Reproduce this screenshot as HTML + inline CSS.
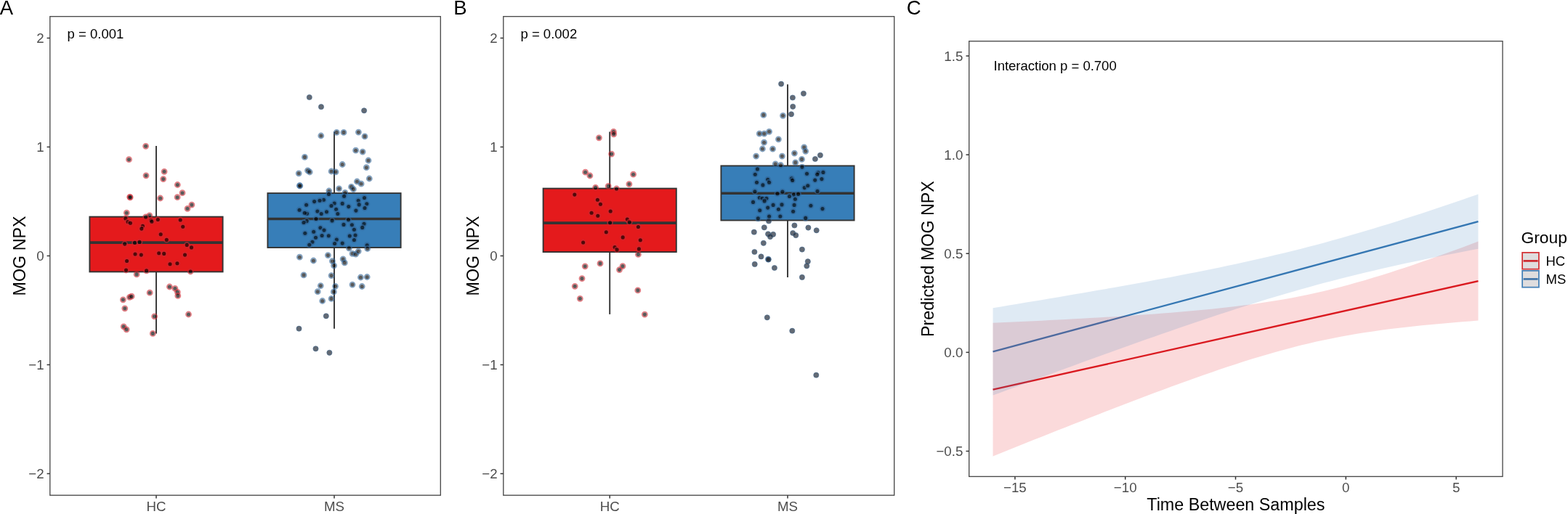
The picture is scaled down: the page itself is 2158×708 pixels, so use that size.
<!DOCTYPE html><html><head><meta charset="utf-8"><title>MOG NPX figure</title><style>html,body{margin:0;padding:0;background:#fff;overflow:hidden;}svg{display:block;}text{font-family:'Liberation Sans', Arial, Helvetica, sans-serif;}</style></head><body>
<svg width="2158" height="708" viewBox="0 0 2158 708">
<rect width="2158" height="708" fill="#fff"/>
<line x1="215" y1="201" x2="215" y2="298.6" stroke="#333333" stroke-width="1.9"/>
<line x1="215" y1="374.4" x2="215" y2="459.4" stroke="#333333" stroke-width="1.9"/>
<rect x="123.4" y="298.6" width="183.2" height="75.8" fill="#E41A1C" stroke="#333333" stroke-width="1.9"/>
<line x1="123.4" y1="334.1" x2="306.6" y2="334.1" stroke="#333333" stroke-width="3.6"/>
<line x1="460" y1="181.5" x2="460" y2="266.1" stroke="#333333" stroke-width="1.9"/>
<line x1="460" y1="341" x2="460" y2="452.7" stroke="#333333" stroke-width="1.9"/>
<rect x="368.4" y="266.1" width="183.2" height="74.9" fill="#377EB8" stroke="#333333" stroke-width="1.9"/>
<line x1="368.4" y1="301.5" x2="551.6" y2="301.5" stroke="#333333" stroke-width="3.6"/>
<circle cx="200.6" cy="201.3" r="3.45" fill="none" stroke="rgba(205,40,50,0.6)" stroke-width="1.9"/><circle cx="200.6" cy="201.3" r="2.55" fill="rgba(0,0,0,0.65)"/>
<circle cx="177.5" cy="219.7" r="3.45" fill="none" stroke="rgba(205,40,50,0.6)" stroke-width="1.9"/><circle cx="177.5" cy="219.7" r="2.55" fill="rgba(0,0,0,0.65)"/>
<circle cx="201" cy="241.8" r="3.45" fill="none" stroke="rgba(205,40,50,0.6)" stroke-width="1.9"/><circle cx="201" cy="241.8" r="2.55" fill="rgba(0,0,0,0.65)"/>
<circle cx="226.1" cy="236.3" r="3.45" fill="none" stroke="rgba(205,40,50,0.6)" stroke-width="1.9"/><circle cx="226.1" cy="236.3" r="2.55" fill="rgba(0,0,0,0.65)"/>
<circle cx="224.7" cy="246.6" r="3.45" fill="none" stroke="rgba(205,40,50,0.6)" stroke-width="1.9"/><circle cx="224.7" cy="246.6" r="2.55" fill="rgba(0,0,0,0.65)"/>
<circle cx="244.3" cy="254.5" r="3.45" fill="none" stroke="rgba(205,40,50,0.6)" stroke-width="1.9"/><circle cx="244.3" cy="254.5" r="2.55" fill="rgba(0,0,0,0.65)"/>
<circle cx="251" cy="265.7" r="3.45" fill="none" stroke="rgba(205,40,50,0.6)" stroke-width="1.9"/><circle cx="251" cy="265.7" r="2.55" fill="rgba(0,0,0,0.65)"/>
<circle cx="244.1" cy="271.7" r="3.45" fill="none" stroke="rgba(205,40,50,0.6)" stroke-width="1.9"/><circle cx="244.1" cy="271.7" r="2.55" fill="rgba(0,0,0,0.65)"/>
<circle cx="178.7" cy="271.3" r="3.45" fill="none" stroke="rgba(205,40,50,0.6)" stroke-width="1.9"/><circle cx="178.7" cy="271.3" r="2.55" fill="rgba(0,0,0,0.65)"/>
<circle cx="179.2" cy="271.8" r="3.45" fill="none" stroke="rgba(205,40,50,0.6)" stroke-width="1.9"/><circle cx="179.2" cy="271.8" r="2.55" fill="rgba(0,0,0,0.65)"/>
<circle cx="220.6" cy="273" r="3.45" fill="none" stroke="rgba(205,40,50,0.6)" stroke-width="1.9"/><circle cx="220.6" cy="273" r="2.55" fill="rgba(0,0,0,0.65)"/>
<circle cx="263.9" cy="282.1" r="3.45" fill="none" stroke="rgba(205,40,50,0.6)" stroke-width="1.9"/><circle cx="263.9" cy="282.1" r="2.55" fill="rgba(0,0,0,0.65)"/>
<circle cx="258" cy="287.3" r="3.45" fill="none" stroke="rgba(205,40,50,0.6)" stroke-width="1.9"/><circle cx="258" cy="287.3" r="2.55" fill="rgba(0,0,0,0.65)"/>
<circle cx="174.3" cy="293.2" r="3.45" fill="none" stroke="rgba(205,40,50,0.6)" stroke-width="1.9"/><circle cx="174.3" cy="293.2" r="2.55" fill="rgba(0,0,0,0.65)"/>
<circle cx="205.8" cy="296.8" r="3.45" fill="none" stroke="rgba(205,40,50,0.6)" stroke-width="1.9"/><circle cx="205.8" cy="296.8" r="2.55" fill="rgba(0,0,0,0.65)"/>
<circle cx="200.6" cy="298.9" r="3.45" fill="none" stroke="rgba(205,40,50,0.6)" stroke-width="1.9"/><circle cx="200.6" cy="298.9" r="2.55" fill="rgba(0,0,0,0.65)"/>
<circle cx="172.9" cy="301" r="3.45" fill="none" stroke="rgba(205,40,50,0.6)" stroke-width="1.9"/><circle cx="172.9" cy="301" r="2.55" fill="rgba(0,0,0,0.65)"/>
<circle cx="176" cy="305.6" r="3.45" fill="none" stroke="rgba(205,40,50,0.6)" stroke-width="1.9"/><circle cx="176" cy="305.6" r="2.55" fill="rgba(0,0,0,0.65)"/>
<circle cx="179.4" cy="307.2" r="3.45" fill="none" stroke="rgba(205,40,50,0.6)" stroke-width="1.9"/><circle cx="179.4" cy="307.2" r="2.55" fill="rgba(0,0,0,0.65)"/>
<circle cx="207.9" cy="303.3" r="3.45" fill="none" stroke="rgba(205,40,50,0.6)" stroke-width="1.9"/><circle cx="207.9" cy="303.3" r="2.55" fill="rgba(0,0,0,0.65)"/>
<circle cx="208.9" cy="305.2" r="3.45" fill="none" stroke="rgba(205,40,50,0.6)" stroke-width="1.9"/><circle cx="208.9" cy="305.2" r="2.55" fill="rgba(0,0,0,0.65)"/>
<circle cx="217.3" cy="302.5" r="3.45" fill="none" stroke="rgba(205,40,50,0.6)" stroke-width="1.9"/><circle cx="217.3" cy="302.5" r="2.55" fill="rgba(0,0,0,0.65)"/>
<circle cx="196.4" cy="311.4" r="3.45" fill="none" stroke="rgba(205,40,50,0.6)" stroke-width="1.9"/><circle cx="196.4" cy="311.4" r="2.55" fill="rgba(0,0,0,0.65)"/>
<circle cx="194.8" cy="315.1" r="3.45" fill="none" stroke="rgba(205,40,50,0.6)" stroke-width="1.9"/><circle cx="194.8" cy="315.1" r="2.55" fill="rgba(0,0,0,0.65)"/>
<circle cx="221.2" cy="322.7" r="3.45" fill="none" stroke="rgba(205,40,50,0.6)" stroke-width="1.9"/><circle cx="221.2" cy="322.7" r="2.55" fill="rgba(0,0,0,0.65)"/>
<circle cx="229.3" cy="330.2" r="3.45" fill="none" stroke="rgba(205,40,50,0.6)" stroke-width="1.9"/><circle cx="229.3" cy="330.2" r="2.55" fill="rgba(0,0,0,0.65)"/>
<circle cx="248.2" cy="303" r="3.45" fill="none" stroke="rgba(205,40,50,0.6)" stroke-width="1.9"/><circle cx="248.2" cy="303" r="2.55" fill="rgba(0,0,0,0.65)"/>
<circle cx="251.7" cy="312.3" r="3.45" fill="none" stroke="rgba(205,40,50,0.6)" stroke-width="1.9"/><circle cx="251.7" cy="312.3" r="2.55" fill="rgba(0,0,0,0.65)"/>
<circle cx="171.7" cy="336.1" r="3.45" fill="none" stroke="rgba(205,40,50,0.6)" stroke-width="1.9"/><circle cx="171.7" cy="336.1" r="2.55" fill="rgba(0,0,0,0.65)"/>
<circle cx="185.5" cy="334.4" r="3.45" fill="none" stroke="rgba(205,40,50,0.6)" stroke-width="1.9"/><circle cx="185.5" cy="334.4" r="2.55" fill="rgba(0,0,0,0.65)"/>
<circle cx="192" cy="333.4" r="3.45" fill="none" stroke="rgba(205,40,50,0.6)" stroke-width="1.9"/><circle cx="192" cy="333.4" r="2.55" fill="rgba(0,0,0,0.65)"/>
<circle cx="257.2" cy="337.5" r="3.45" fill="none" stroke="rgba(205,40,50,0.6)" stroke-width="1.9"/><circle cx="257.2" cy="337.5" r="2.55" fill="rgba(0,0,0,0.65)"/>
<circle cx="263.5" cy="340.9" r="3.45" fill="none" stroke="rgba(205,40,50,0.6)" stroke-width="1.9"/><circle cx="263.5" cy="340.9" r="2.55" fill="rgba(0,0,0,0.65)"/>
<circle cx="186" cy="350" r="3.45" fill="none" stroke="rgba(205,40,50,0.6)" stroke-width="1.9"/><circle cx="186" cy="350" r="2.55" fill="rgba(0,0,0,0.65)"/>
<circle cx="194.3" cy="351.1" r="3.45" fill="none" stroke="rgba(205,40,50,0.6)" stroke-width="1.9"/><circle cx="194.3" cy="351.1" r="2.55" fill="rgba(0,0,0,0.65)"/>
<circle cx="218.7" cy="348.8" r="3.45" fill="none" stroke="rgba(205,40,50,0.6)" stroke-width="1.9"/><circle cx="218.7" cy="348.8" r="2.55" fill="rgba(0,0,0,0.65)"/>
<circle cx="225.7" cy="349.4" r="3.45" fill="none" stroke="rgba(205,40,50,0.6)" stroke-width="1.9"/><circle cx="225.7" cy="349.4" r="2.55" fill="rgba(0,0,0,0.65)"/>
<circle cx="254.5" cy="351.1" r="3.45" fill="none" stroke="rgba(205,40,50,0.6)" stroke-width="1.9"/><circle cx="254.5" cy="351.1" r="2.55" fill="rgba(0,0,0,0.65)"/>
<circle cx="174.6" cy="359.5" r="3.45" fill="none" stroke="rgba(205,40,50,0.6)" stroke-width="1.9"/><circle cx="174.6" cy="359.5" r="2.55" fill="rgba(0,0,0,0.65)"/>
<circle cx="234" cy="363.7" r="3.45" fill="none" stroke="rgba(205,40,50,0.6)" stroke-width="1.9"/><circle cx="234" cy="363.7" r="2.55" fill="rgba(0,0,0,0.65)"/>
<circle cx="243.9" cy="362.8" r="3.45" fill="none" stroke="rgba(205,40,50,0.6)" stroke-width="1.9"/><circle cx="243.9" cy="362.8" r="2.55" fill="rgba(0,0,0,0.65)"/>
<circle cx="173.5" cy="372" r="3.45" fill="none" stroke="rgba(205,40,50,0.6)" stroke-width="1.9"/><circle cx="173.5" cy="372" r="2.55" fill="rgba(0,0,0,0.65)"/>
<circle cx="201.6" cy="372.9" r="3.45" fill="none" stroke="rgba(205,40,50,0.6)" stroke-width="1.9"/><circle cx="201.6" cy="372.9" r="2.55" fill="rgba(0,0,0,0.65)"/>
<circle cx="262.2" cy="374" r="3.45" fill="none" stroke="rgba(205,40,50,0.6)" stroke-width="1.9"/><circle cx="262.2" cy="374" r="2.55" fill="rgba(0,0,0,0.65)"/>
<circle cx="188.1" cy="377.9" r="3.45" fill="none" stroke="rgba(205,40,50,0.6)" stroke-width="1.9"/><circle cx="188.1" cy="377.9" r="2.55" fill="rgba(0,0,0,0.65)"/>
<circle cx="206.1" cy="403.2" r="3.45" fill="none" stroke="rgba(205,40,50,0.6)" stroke-width="1.9"/><circle cx="206.1" cy="403.2" r="2.55" fill="rgba(0,0,0,0.65)"/>
<circle cx="178.4" cy="409.4" r="3.45" fill="none" stroke="rgba(205,40,50,0.6)" stroke-width="1.9"/><circle cx="178.4" cy="409.4" r="2.55" fill="rgba(0,0,0,0.65)"/>
<circle cx="181.1" cy="408.2" r="3.45" fill="none" stroke="rgba(205,40,50,0.6)" stroke-width="1.9"/><circle cx="181.1" cy="408.2" r="2.55" fill="rgba(0,0,0,0.65)"/>
<circle cx="169.4" cy="412.8" r="3.45" fill="none" stroke="rgba(205,40,50,0.6)" stroke-width="1.9"/><circle cx="169.4" cy="412.8" r="2.55" fill="rgba(0,0,0,0.65)"/>
<circle cx="171.8" cy="424.8" r="3.45" fill="none" stroke="rgba(205,40,50,0.6)" stroke-width="1.9"/><circle cx="171.8" cy="424.8" r="2.55" fill="rgba(0,0,0,0.65)"/>
<circle cx="212.6" cy="435.8" r="3.45" fill="none" stroke="rgba(205,40,50,0.6)" stroke-width="1.9"/><circle cx="212.6" cy="435.8" r="2.55" fill="rgba(0,0,0,0.65)"/>
<circle cx="170.2" cy="449.8" r="3.45" fill="none" stroke="rgba(205,40,50,0.6)" stroke-width="1.9"/><circle cx="170.2" cy="449.8" r="2.55" fill="rgba(0,0,0,0.65)"/>
<circle cx="174.1" cy="453.8" r="3.45" fill="none" stroke="rgba(205,40,50,0.6)" stroke-width="1.9"/><circle cx="174.1" cy="453.8" r="2.55" fill="rgba(0,0,0,0.65)"/>
<circle cx="210.3" cy="459.4" r="3.45" fill="none" stroke="rgba(205,40,50,0.6)" stroke-width="1.9"/><circle cx="210.3" cy="459.4" r="2.55" fill="rgba(0,0,0,0.65)"/>
<circle cx="233.4" cy="395" r="3.45" fill="none" stroke="rgba(205,40,50,0.6)" stroke-width="1.9"/><circle cx="233.4" cy="395" r="2.55" fill="rgba(0,0,0,0.65)"/>
<circle cx="240.9" cy="397.3" r="3.45" fill="none" stroke="rgba(205,40,50,0.6)" stroke-width="1.9"/><circle cx="240.9" cy="397.3" r="2.55" fill="rgba(0,0,0,0.65)"/>
<circle cx="244.3" cy="402.3" r="3.45" fill="none" stroke="rgba(205,40,50,0.6)" stroke-width="1.9"/><circle cx="244.3" cy="402.3" r="2.55" fill="rgba(0,0,0,0.65)"/>
<circle cx="244.8" cy="407.4" r="3.45" fill="none" stroke="rgba(205,40,50,0.6)" stroke-width="1.9"/><circle cx="244.8" cy="407.4" r="2.55" fill="rgba(0,0,0,0.65)"/>
<circle cx="259.5" cy="433" r="3.45" fill="none" stroke="rgba(205,40,50,0.6)" stroke-width="1.9"/><circle cx="259.5" cy="433" r="2.55" fill="rgba(0,0,0,0.65)"/>
<circle cx="425.8" cy="134" r="3.6" fill="rgba(25,35,50,0.68)" stroke="rgba(60,100,140,0.55)" stroke-width="1"/>
<circle cx="442" cy="147.2" r="3.6" fill="rgba(25,35,50,0.68)" stroke="rgba(60,100,140,0.55)" stroke-width="1"/>
<circle cx="501.1" cy="152.3" r="3.6" fill="rgba(25,35,50,0.68)" stroke="rgba(60,100,140,0.55)" stroke-width="1"/>
<circle cx="463.3" cy="182.4" r="3.45" fill="none" stroke="rgba(50,102,152,0.6)" stroke-width="1.9"/><circle cx="463.3" cy="182.4" r="2.55" fill="rgba(0,0,0,0.65)"/>
<circle cx="473" cy="182.4" r="3.45" fill="none" stroke="rgba(50,102,152,0.6)" stroke-width="1.9"/><circle cx="473" cy="182.4" r="2.55" fill="rgba(0,0,0,0.65)"/>
<circle cx="493.4" cy="182.1" r="3.45" fill="none" stroke="rgba(50,102,152,0.6)" stroke-width="1.9"/><circle cx="493.4" cy="182.1" r="2.55" fill="rgba(0,0,0,0.65)"/>
<circle cx="502" cy="187.9" r="3.45" fill="none" stroke="rgba(50,102,152,0.6)" stroke-width="1.9"/><circle cx="502" cy="187.9" r="2.55" fill="rgba(0,0,0,0.65)"/>
<circle cx="441.8" cy="187" r="3.45" fill="none" stroke="rgba(50,102,152,0.6)" stroke-width="1.9"/><circle cx="441.8" cy="187" r="2.55" fill="rgba(0,0,0,0.65)"/>
<circle cx="489.6" cy="207.2" r="3.45" fill="none" stroke="rgba(50,102,152,0.6)" stroke-width="1.9"/><circle cx="489.6" cy="207.2" r="2.55" fill="rgba(0,0,0,0.65)"/>
<circle cx="499.1" cy="209.1" r="3.45" fill="none" stroke="rgba(50,102,152,0.6)" stroke-width="1.9"/><circle cx="499.1" cy="209.1" r="2.55" fill="rgba(0,0,0,0.65)"/>
<circle cx="419.4" cy="216.4" r="3.45" fill="none" stroke="rgba(50,102,152,0.6)" stroke-width="1.9"/><circle cx="419.4" cy="216.4" r="2.55" fill="rgba(0,0,0,0.65)"/>
<circle cx="507" cy="221" r="3.45" fill="none" stroke="rgba(50,102,152,0.6)" stroke-width="1.9"/><circle cx="507" cy="221" r="2.55" fill="rgba(0,0,0,0.65)"/>
<circle cx="471.2" cy="226.5" r="3.45" fill="none" stroke="rgba(50,102,152,0.6)" stroke-width="1.9"/><circle cx="471.2" cy="226.5" r="2.55" fill="rgba(0,0,0,0.65)"/>
<circle cx="504.3" cy="230.7" r="3.45" fill="none" stroke="rgba(50,102,152,0.6)" stroke-width="1.9"/><circle cx="504.3" cy="230.7" r="2.55" fill="rgba(0,0,0,0.65)"/>
<circle cx="423.5" cy="234.8" r="3.45" fill="none" stroke="rgba(50,102,152,0.6)" stroke-width="1.9"/><circle cx="423.5" cy="234.8" r="2.55" fill="rgba(0,0,0,0.65)"/>
<circle cx="426.2" cy="237" r="3.45" fill="none" stroke="rgba(50,102,152,0.6)" stroke-width="1.9"/><circle cx="426.2" cy="237" r="2.55" fill="rgba(0,0,0,0.65)"/>
<circle cx="411.2" cy="238.8" r="3.45" fill="none" stroke="rgba(50,102,152,0.6)" stroke-width="1.9"/><circle cx="411.2" cy="238.8" r="2.55" fill="rgba(0,0,0,0.65)"/>
<circle cx="456.1" cy="236" r="3.45" fill="none" stroke="rgba(50,102,152,0.6)" stroke-width="1.9"/><circle cx="456.1" cy="236" r="2.55" fill="rgba(0,0,0,0.65)"/>
<circle cx="462" cy="236.8" r="3.45" fill="none" stroke="rgba(50,102,152,0.6)" stroke-width="1.9"/><circle cx="462" cy="236.8" r="2.55" fill="rgba(0,0,0,0.65)"/>
<circle cx="508.3" cy="246" r="3.45" fill="none" stroke="rgba(50,102,152,0.6)" stroke-width="1.9"/><circle cx="508.3" cy="246" r="2.55" fill="rgba(0,0,0,0.65)"/>
<circle cx="491.4" cy="250" r="3.45" fill="none" stroke="rgba(50,102,152,0.6)" stroke-width="1.9"/><circle cx="491.4" cy="250" r="2.55" fill="rgba(0,0,0,0.65)"/>
<circle cx="412.4" cy="255.6" r="3.45" fill="none" stroke="rgba(50,102,152,0.6)" stroke-width="1.9"/><circle cx="412.4" cy="255.6" r="2.55" fill="rgba(0,0,0,0.65)"/>
<circle cx="412.8" cy="256" r="3.45" fill="none" stroke="rgba(50,102,152,0.6)" stroke-width="1.9"/><circle cx="412.8" cy="256" r="2.55" fill="rgba(0,0,0,0.65)"/>
<circle cx="497.1" cy="253.2" r="3.45" fill="none" stroke="rgba(50,102,152,0.6)" stroke-width="1.9"/><circle cx="497.1" cy="253.2" r="2.55" fill="rgba(0,0,0,0.65)"/>
<circle cx="466.6" cy="259.8" r="3.45" fill="none" stroke="rgba(50,102,152,0.6)" stroke-width="1.9"/><circle cx="466.6" cy="259.8" r="2.55" fill="rgba(0,0,0,0.65)"/>
<circle cx="483.5" cy="257.4" r="3.45" fill="none" stroke="rgba(50,102,152,0.6)" stroke-width="1.9"/><circle cx="483.5" cy="257.4" r="2.55" fill="rgba(0,0,0,0.65)"/>
<circle cx="486.4" cy="260.6" r="3.45" fill="none" stroke="rgba(50,102,152,0.6)" stroke-width="1.9"/><circle cx="486.4" cy="260.6" r="2.55" fill="rgba(0,0,0,0.65)"/>
<circle cx="452.8" cy="263" r="3.45" fill="none" stroke="rgba(50,102,152,0.6)" stroke-width="1.9"/><circle cx="452.8" cy="263" r="2.55" fill="rgba(0,0,0,0.65)"/>
<circle cx="452.5" cy="267.5" r="3.45" fill="none" stroke="rgba(50,102,152,0.6)" stroke-width="1.9"/><circle cx="452.5" cy="267.5" r="2.55" fill="rgba(0,0,0,0.65)"/>
<circle cx="474.9" cy="265.3" r="3.45" fill="none" stroke="rgba(50,102,152,0.6)" stroke-width="1.9"/><circle cx="474.9" cy="265.3" r="2.55" fill="rgba(0,0,0,0.65)"/>
<circle cx="473.6" cy="270.3" r="3.45" fill="none" stroke="rgba(50,102,152,0.6)" stroke-width="1.9"/><circle cx="473.6" cy="270.3" r="2.55" fill="rgba(0,0,0,0.65)"/>
<circle cx="501.5" cy="272.5" r="3.45" fill="none" stroke="rgba(50,102,152,0.6)" stroke-width="1.9"/><circle cx="501.5" cy="272.5" r="2.55" fill="rgba(0,0,0,0.65)"/>
<circle cx="445.5" cy="275.3" r="3.45" fill="none" stroke="rgba(50,102,152,0.6)" stroke-width="1.9"/><circle cx="445.5" cy="275.3" r="2.55" fill="rgba(0,0,0,0.65)"/>
<circle cx="440" cy="276.2" r="3.45" fill="none" stroke="rgba(50,102,152,0.6)" stroke-width="1.9"/><circle cx="440" cy="276.2" r="2.55" fill="rgba(0,0,0,0.65)"/>
<circle cx="432.6" cy="277.6" r="3.45" fill="none" stroke="rgba(50,102,152,0.6)" stroke-width="1.9"/><circle cx="432.6" cy="277.6" r="2.55" fill="rgba(0,0,0,0.65)"/>
<circle cx="421.6" cy="282.2" r="3.45" fill="none" stroke="rgba(50,102,152,0.6)" stroke-width="1.9"/><circle cx="421.6" cy="282.2" r="2.55" fill="rgba(0,0,0,0.65)"/>
<circle cx="460.2" cy="280" r="3.45" fill="none" stroke="rgba(50,102,152,0.6)" stroke-width="1.9"/><circle cx="460.2" cy="280" r="2.55" fill="rgba(0,0,0,0.65)"/>
<circle cx="456" cy="283.5" r="3.45" fill="none" stroke="rgba(50,102,152,0.6)" stroke-width="1.9"/><circle cx="456" cy="283.5" r="2.55" fill="rgba(0,0,0,0.65)"/>
<circle cx="471.2" cy="280.4" r="3.45" fill="none" stroke="rgba(50,102,152,0.6)" stroke-width="1.9"/><circle cx="471.2" cy="280.4" r="2.55" fill="rgba(0,0,0,0.65)"/>
<circle cx="479.8" cy="284.6" r="3.45" fill="none" stroke="rgba(50,102,152,0.6)" stroke-width="1.9"/><circle cx="479.8" cy="284.6" r="2.55" fill="rgba(0,0,0,0.65)"/>
<circle cx="493.2" cy="276.2" r="3.45" fill="none" stroke="rgba(50,102,152,0.6)" stroke-width="1.9"/><circle cx="493.2" cy="276.2" r="2.55" fill="rgba(0,0,0,0.65)"/>
<circle cx="494.2" cy="281.9" r="3.45" fill="none" stroke="rgba(50,102,152,0.6)" stroke-width="1.9"/><circle cx="494.2" cy="281.9" r="2.55" fill="rgba(0,0,0,0.65)"/>
<circle cx="504.8" cy="280.8" r="3.45" fill="none" stroke="rgba(50,102,152,0.6)" stroke-width="1.9"/><circle cx="504.8" cy="280.8" r="2.55" fill="rgba(0,0,0,0.65)"/>
<circle cx="502" cy="286.5" r="3.45" fill="none" stroke="rgba(50,102,152,0.6)" stroke-width="1.9"/><circle cx="502" cy="286.5" r="2.55" fill="rgba(0,0,0,0.65)"/>
<circle cx="412.1" cy="289.2" r="3.45" fill="none" stroke="rgba(50,102,152,0.6)" stroke-width="1.9"/><circle cx="412.1" cy="289.2" r="2.55" fill="rgba(0,0,0,0.65)"/>
<circle cx="422.5" cy="294.2" r="3.45" fill="none" stroke="rgba(50,102,152,0.6)" stroke-width="1.9"/><circle cx="422.5" cy="294.2" r="2.55" fill="rgba(0,0,0,0.65)"/>
<circle cx="419.2" cy="293.2" r="3.45" fill="none" stroke="rgba(50,102,152,0.6)" stroke-width="1.9"/><circle cx="419.2" cy="293.2" r="2.55" fill="rgba(0,0,0,0.65)"/>
<circle cx="436.9" cy="291" r="3.45" fill="none" stroke="rgba(50,102,152,0.6)" stroke-width="1.9"/><circle cx="436.9" cy="291" r="2.55" fill="rgba(0,0,0,0.65)"/>
<circle cx="462.6" cy="288.3" r="3.45" fill="none" stroke="rgba(50,102,152,0.6)" stroke-width="1.9"/><circle cx="462.6" cy="288.3" r="2.55" fill="rgba(0,0,0,0.65)"/>
<circle cx="449.5" cy="291.8" r="3.45" fill="none" stroke="rgba(50,102,152,0.6)" stroke-width="1.9"/><circle cx="449.5" cy="291.8" r="2.55" fill="rgba(0,0,0,0.65)"/>
<circle cx="442.2" cy="294.5" r="3.45" fill="none" stroke="rgba(50,102,152,0.6)" stroke-width="1.9"/><circle cx="442.2" cy="294.5" r="2.55" fill="rgba(0,0,0,0.65)"/>
<circle cx="464.8" cy="294.5" r="3.45" fill="none" stroke="rgba(50,102,152,0.6)" stroke-width="1.9"/><circle cx="464.8" cy="294.5" r="2.55" fill="rgba(0,0,0,0.65)"/>
<circle cx="489.9" cy="290.1" r="3.45" fill="none" stroke="rgba(50,102,152,0.6)" stroke-width="1.9"/><circle cx="489.9" cy="290.1" r="2.55" fill="rgba(0,0,0,0.65)"/>
<circle cx="435" cy="301.5" r="3.45" fill="none" stroke="rgba(50,102,152,0.6)" stroke-width="1.9"/><circle cx="435" cy="301.5" r="2.55" fill="rgba(0,0,0,0.65)"/>
<circle cx="422.2" cy="304.6" r="3.45" fill="none" stroke="rgba(50,102,152,0.6)" stroke-width="1.9"/><circle cx="422.2" cy="304.6" r="2.55" fill="rgba(0,0,0,0.65)"/>
<circle cx="418" cy="306.5" r="3.45" fill="none" stroke="rgba(50,102,152,0.6)" stroke-width="1.9"/><circle cx="418" cy="306.5" r="2.55" fill="rgba(0,0,0,0.65)"/>
<circle cx="457.1" cy="303.9" r="3.45" fill="none" stroke="rgba(50,102,152,0.6)" stroke-width="1.9"/><circle cx="457.1" cy="303.9" r="2.55" fill="rgba(0,0,0,0.65)"/>
<circle cx="479.5" cy="302.8" r="3.45" fill="none" stroke="rgba(50,102,152,0.6)" stroke-width="1.9"/><circle cx="479.5" cy="302.8" r="2.55" fill="rgba(0,0,0,0.65)"/>
<circle cx="473" cy="309.4" r="3.45" fill="none" stroke="rgba(50,102,152,0.6)" stroke-width="1.9"/><circle cx="473" cy="309.4" r="2.55" fill="rgba(0,0,0,0.65)"/>
<circle cx="484.4" cy="309.8" r="3.45" fill="none" stroke="rgba(50,102,152,0.6)" stroke-width="1.9"/><circle cx="484.4" cy="309.8" r="2.55" fill="rgba(0,0,0,0.65)"/>
<circle cx="487.4" cy="316.2" r="3.45" fill="none" stroke="rgba(50,102,152,0.6)" stroke-width="1.9"/><circle cx="487.4" cy="316.2" r="2.55" fill="rgba(0,0,0,0.65)"/>
<circle cx="501" cy="308.3" r="3.45" fill="none" stroke="rgba(50,102,152,0.6)" stroke-width="1.9"/><circle cx="501" cy="308.3" r="2.55" fill="rgba(0,0,0,0.65)"/>
<circle cx="498.7" cy="313.4" r="3.45" fill="none" stroke="rgba(50,102,152,0.6)" stroke-width="1.9"/><circle cx="498.7" cy="313.4" r="2.55" fill="rgba(0,0,0,0.65)"/>
<circle cx="440.9" cy="313.8" r="3.45" fill="none" stroke="rgba(50,102,152,0.6)" stroke-width="1.9"/><circle cx="440.9" cy="313.8" r="2.55" fill="rgba(0,0,0,0.65)"/>
<circle cx="446" cy="317.1" r="3.45" fill="none" stroke="rgba(50,102,152,0.6)" stroke-width="1.9"/><circle cx="446" cy="317.1" r="2.55" fill="rgba(0,0,0,0.65)"/>
<circle cx="431.7" cy="319.3" r="3.45" fill="none" stroke="rgba(50,102,152,0.6)" stroke-width="1.9"/><circle cx="431.7" cy="319.3" r="2.55" fill="rgba(0,0,0,0.65)"/>
<circle cx="419.8" cy="321.3" r="3.45" fill="none" stroke="rgba(50,102,152,0.6)" stroke-width="1.9"/><circle cx="419.8" cy="321.3" r="2.55" fill="rgba(0,0,0,0.65)"/>
<circle cx="443.1" cy="324.5" r="3.45" fill="none" stroke="rgba(50,102,152,0.6)" stroke-width="1.9"/><circle cx="443.1" cy="324.5" r="2.55" fill="rgba(0,0,0,0.65)"/>
<circle cx="452.3" cy="324.8" r="3.45" fill="none" stroke="rgba(50,102,152,0.6)" stroke-width="1.9"/><circle cx="452.3" cy="324.8" r="2.55" fill="rgba(0,0,0,0.65)"/>
<circle cx="434.5" cy="327.2" r="3.45" fill="none" stroke="rgba(50,102,152,0.6)" stroke-width="1.9"/><circle cx="434.5" cy="327.2" r="2.55" fill="rgba(0,0,0,0.65)"/>
<circle cx="481.3" cy="325" r="3.45" fill="none" stroke="rgba(50,102,152,0.6)" stroke-width="1.9"/><circle cx="481.3" cy="325" r="2.55" fill="rgba(0,0,0,0.65)"/>
<circle cx="489" cy="324.1" r="3.45" fill="none" stroke="rgba(50,102,152,0.6)" stroke-width="1.9"/><circle cx="489" cy="324.1" r="2.55" fill="rgba(0,0,0,0.65)"/>
<circle cx="487.4" cy="330.5" r="3.45" fill="none" stroke="rgba(50,102,152,0.6)" stroke-width="1.9"/><circle cx="487.4" cy="330.5" r="2.55" fill="rgba(0,0,0,0.65)"/>
<circle cx="463.3" cy="330" r="3.45" fill="none" stroke="rgba(50,102,152,0.6)" stroke-width="1.9"/><circle cx="463.3" cy="330" r="2.55" fill="rgba(0,0,0,0.65)"/>
<circle cx="460.6" cy="335.5" r="3.45" fill="none" stroke="rgba(50,102,152,0.6)" stroke-width="1.9"/><circle cx="460.6" cy="335.5" r="2.55" fill="rgba(0,0,0,0.65)"/>
<circle cx="471.2" cy="335.1" r="3.45" fill="none" stroke="rgba(50,102,152,0.6)" stroke-width="1.9"/><circle cx="471.2" cy="335.1" r="2.55" fill="rgba(0,0,0,0.65)"/>
<circle cx="429.9" cy="333.3" r="3.45" fill="none" stroke="rgba(50,102,152,0.6)" stroke-width="1.9"/><circle cx="429.9" cy="333.3" r="2.55" fill="rgba(0,0,0,0.65)"/>
<circle cx="425.8" cy="337.3" r="3.45" fill="none" stroke="rgba(50,102,152,0.6)" stroke-width="1.9"/><circle cx="425.8" cy="337.3" r="2.55" fill="rgba(0,0,0,0.65)"/>
<circle cx="505.2" cy="337.7" r="3.45" fill="none" stroke="rgba(50,102,152,0.6)" stroke-width="1.9"/><circle cx="505.2" cy="337.7" r="2.55" fill="rgba(0,0,0,0.65)"/>
<circle cx="480.4" cy="341.9" r="3.45" fill="none" stroke="rgba(50,102,152,0.6)" stroke-width="1.9"/><circle cx="480.4" cy="341.9" r="2.55" fill="rgba(0,0,0,0.65)"/>
<circle cx="505.7" cy="342.5" r="3.45" fill="none" stroke="rgba(50,102,152,0.6)" stroke-width="1.9"/><circle cx="505.7" cy="342.5" r="2.55" fill="rgba(0,0,0,0.65)"/>
<circle cx="485" cy="349.3" r="3.45" fill="none" stroke="rgba(50,102,152,0.6)" stroke-width="1.9"/><circle cx="485" cy="349.3" r="2.55" fill="rgba(0,0,0,0.65)"/>
<circle cx="489.6" cy="350.2" r="3.45" fill="none" stroke="rgba(50,102,152,0.6)" stroke-width="1.9"/><circle cx="489.6" cy="350.2" r="2.55" fill="rgba(0,0,0,0.65)"/>
<circle cx="493.2" cy="346.1" r="3.45" fill="none" stroke="rgba(50,102,152,0.6)" stroke-width="1.9"/><circle cx="493.2" cy="346.1" r="2.55" fill="rgba(0,0,0,0.65)"/>
<circle cx="412.4" cy="354.2" r="3.45" fill="none" stroke="rgba(50,102,152,0.6)" stroke-width="1.9"/><circle cx="412.4" cy="354.2" r="2.55" fill="rgba(0,0,0,0.65)"/>
<circle cx="431.4" cy="359" r="3.45" fill="none" stroke="rgba(50,102,152,0.6)" stroke-width="1.9"/><circle cx="431.4" cy="359" r="2.55" fill="rgba(0,0,0,0.65)"/>
<circle cx="451.4" cy="351.6" r="3.45" fill="none" stroke="rgba(50,102,152,0.6)" stroke-width="1.9"/><circle cx="451.4" cy="351.6" r="2.55" fill="rgba(0,0,0,0.65)"/>
<circle cx="457.4" cy="359.7" r="3.45" fill="none" stroke="rgba(50,102,152,0.6)" stroke-width="1.9"/><circle cx="457.4" cy="359.7" r="2.55" fill="rgba(0,0,0,0.65)"/>
<circle cx="472.1" cy="356.8" r="3.45" fill="none" stroke="rgba(50,102,152,0.6)" stroke-width="1.9"/><circle cx="472.1" cy="356.8" r="2.55" fill="rgba(0,0,0,0.65)"/>
<circle cx="474.3" cy="361.9" r="3.45" fill="none" stroke="rgba(50,102,152,0.6)" stroke-width="1.9"/><circle cx="474.3" cy="361.9" r="2.55" fill="rgba(0,0,0,0.65)"/>
<circle cx="459.6" cy="365.8" r="3.45" fill="none" stroke="rgba(50,102,152,0.6)" stroke-width="1.9"/><circle cx="459.6" cy="365.8" r="2.55" fill="rgba(0,0,0,0.65)"/>
<circle cx="418" cy="378.9" r="3.45" fill="none" stroke="rgba(50,102,152,0.6)" stroke-width="1.9"/><circle cx="418" cy="378.9" r="2.55" fill="rgba(0,0,0,0.65)"/>
<circle cx="456.1" cy="379.6" r="3.45" fill="none" stroke="rgba(50,102,152,0.6)" stroke-width="1.9"/><circle cx="456.1" cy="379.6" r="2.55" fill="rgba(0,0,0,0.65)"/>
<circle cx="496.4" cy="382" r="3.45" fill="none" stroke="rgba(50,102,152,0.6)" stroke-width="1.9"/><circle cx="496.4" cy="382" r="2.55" fill="rgba(0,0,0,0.65)"/>
<circle cx="505.2" cy="381.5" r="3.45" fill="none" stroke="rgba(50,102,152,0.6)" stroke-width="1.9"/><circle cx="505.2" cy="381.5" r="2.55" fill="rgba(0,0,0,0.65)"/>
<circle cx="441.3" cy="393.6" r="3.45" fill="none" stroke="rgba(50,102,152,0.6)" stroke-width="1.9"/><circle cx="441.3" cy="393.6" r="2.55" fill="rgba(0,0,0,0.65)"/>
<circle cx="461.5" cy="394.3" r="3.45" fill="none" stroke="rgba(50,102,152,0.6)" stroke-width="1.9"/><circle cx="461.5" cy="394.3" r="2.55" fill="rgba(0,0,0,0.65)"/>
<circle cx="485" cy="392.1" r="3.45" fill="none" stroke="rgba(50,102,152,0.6)" stroke-width="1.9"/><circle cx="485" cy="392.1" r="2.55" fill="rgba(0,0,0,0.65)"/>
<circle cx="498.2" cy="394.5" r="3.45" fill="none" stroke="rgba(50,102,152,0.6)" stroke-width="1.9"/><circle cx="498.2" cy="394.5" r="2.55" fill="rgba(0,0,0,0.65)"/>
<circle cx="437.2" cy="401.7" r="3.45" fill="none" stroke="rgba(50,102,152,0.6)" stroke-width="1.9"/><circle cx="437.2" cy="401.7" r="2.55" fill="rgba(0,0,0,0.65)"/>
<circle cx="459.3" cy="401.9" r="3.45" fill="none" stroke="rgba(50,102,152,0.6)" stroke-width="1.9"/><circle cx="459.3" cy="401.9" r="2.55" fill="rgba(0,0,0,0.65)"/>
<circle cx="443.7" cy="414.5" r="3.45" fill="none" stroke="rgba(50,102,152,0.6)" stroke-width="1.9"/><circle cx="443.7" cy="414.5" r="2.55" fill="rgba(0,0,0,0.65)"/>
<circle cx="456.1" cy="411.4" r="3.45" fill="none" stroke="rgba(50,102,152,0.6)" stroke-width="1.9"/><circle cx="456.1" cy="411.4" r="2.55" fill="rgba(0,0,0,0.65)"/>
<circle cx="448.8" cy="435.3" r="3.6" fill="rgba(25,35,50,0.68)" stroke="rgba(60,100,140,0.55)" stroke-width="1"/>
<circle cx="411.5" cy="452.7" r="3.6" fill="rgba(25,35,50,0.68)" stroke="rgba(60,100,140,0.55)" stroke-width="1"/>
<circle cx="434.5" cy="480.3" r="3.6" fill="rgba(25,35,50,0.68)" stroke="rgba(60,100,140,0.55)" stroke-width="1"/>
<circle cx="453.4" cy="485.8" r="3.6" fill="rgba(25,35,50,0.68)" stroke="rgba(60,100,140,0.55)" stroke-width="1"/>
<rect x="68.8" y="22.7" width="537.5" height="659.5" fill="none" stroke="#4a4a4a" stroke-width="1.35"/>
<line x1="64.6" y1="52.45" x2="68.8" y2="52.45" stroke="#333333" stroke-width="1.5"/>
<text id="ay2" x="60.6" y="59.05" text-anchor="end" font-size="18.7" fill="#4D4D4D">2</text>
<line x1="64.6" y1="202.45" x2="68.8" y2="202.45" stroke="#333333" stroke-width="1.5"/>
<text id="ay1" x="60.6" y="209.05" text-anchor="end" font-size="18.7" fill="#4D4D4D">1</text>
<line x1="64.6" y1="352.45" x2="68.8" y2="352.45" stroke="#333333" stroke-width="1.5"/>
<text id="ay0" x="60.6" y="359.05" text-anchor="end" font-size="18.7" fill="#4D4D4D">0</text>
<line x1="64.6" y1="502.45" x2="68.8" y2="502.45" stroke="#333333" stroke-width="1.5"/>
<text id="ay-1" x="60.6" y="509.05" text-anchor="end" font-size="18.7" fill="#4D4D4D">−1</text>
<line x1="64.6" y1="652.45" x2="68.8" y2="652.45" stroke="#333333" stroke-width="1.5"/>
<text id="ay-2" x="60.6" y="659.05" text-anchor="end" font-size="18.7" fill="#4D4D4D">−2</text>
<line x1="215" y1="682.2" x2="215" y2="686.4" stroke="#333333" stroke-width="1.5"/>
<text id="axHC" x="215" y="703.8" text-anchor="middle" font-size="18.7" fill="#4D4D4D">HC</text>
<line x1="460" y1="682.2" x2="460" y2="686.4" stroke="#333333" stroke-width="1.5"/>
<text id="axMS" x="460" y="703.8" text-anchor="middle" font-size="18.7" fill="#4D4D4D">MS</text>
<text id="ap" x="92.6" y="52.8" font-size="18.5" fill="#000">p = 0.001</text>
<text id="ayt" transform="translate(35,352.45) rotate(-90)" text-anchor="middle" font-size="23.3" fill="#000">MOG NPX</text>
<text id="albl" x="-0.3" y="19.8" font-size="27.5" fill="#000">A</text>
<line x1="839.2" y1="181.5" x2="839.2" y2="259.6" stroke="#333333" stroke-width="1.9"/>
<line x1="839.2" y1="347.1" x2="839.2" y2="432.9" stroke="#333333" stroke-width="1.9"/>
<rect x="747.6" y="259.6" width="183.2" height="87.5" fill="#E41A1C" stroke="#333333" stroke-width="1.9"/>
<line x1="747.6" y1="307.1" x2="930.8" y2="307.1" stroke="#333333" stroke-width="3.6"/>
<line x1="1084" y1="116.2" x2="1084" y2="228.4" stroke="#333333" stroke-width="1.9"/>
<line x1="1084" y1="303.5" x2="1084" y2="381.9" stroke="#333333" stroke-width="1.9"/>
<rect x="992.4" y="228.4" width="183.2" height="75.1" fill="#377EB8" stroke="#333333" stroke-width="1.9"/>
<line x1="992.4" y1="266.3" x2="1175.6" y2="266.3" stroke="#333333" stroke-width="3.6"/>
<circle cx="844.4" cy="181.3" r="3.45" fill="none" stroke="rgba(205,40,50,0.6)" stroke-width="1.9"/><circle cx="844.4" cy="181.3" r="2.55" fill="rgba(0,0,0,0.65)"/>
<circle cx="844.7" cy="184.8" r="3.45" fill="none" stroke="rgba(205,40,50,0.6)" stroke-width="1.9"/><circle cx="844.7" cy="184.8" r="2.55" fill="rgba(0,0,0,0.65)"/>
<circle cx="824.4" cy="189.8" r="3.45" fill="none" stroke="rgba(205,40,50,0.6)" stroke-width="1.9"/><circle cx="824.4" cy="189.8" r="2.55" fill="rgba(0,0,0,0.65)"/>
<circle cx="841.6" cy="212.1" r="3.45" fill="none" stroke="rgba(205,40,50,0.6)" stroke-width="1.9"/><circle cx="841.6" cy="212.1" r="2.55" fill="rgba(0,0,0,0.65)"/>
<circle cx="805.6" cy="237.2" r="3.45" fill="none" stroke="rgba(205,40,50,0.6)" stroke-width="1.9"/><circle cx="805.6" cy="237.2" r="2.55" fill="rgba(0,0,0,0.65)"/>
<circle cx="811.9" cy="242" r="3.45" fill="none" stroke="rgba(205,40,50,0.6)" stroke-width="1.9"/><circle cx="811.9" cy="242" r="2.55" fill="rgba(0,0,0,0.65)"/>
<circle cx="871.6" cy="240.2" r="3.45" fill="none" stroke="rgba(205,40,50,0.6)" stroke-width="1.9"/><circle cx="871.6" cy="240.2" r="2.55" fill="rgba(0,0,0,0.65)"/>
<circle cx="865.9" cy="253.6" r="3.45" fill="none" stroke="rgba(205,40,50,0.6)" stroke-width="1.9"/><circle cx="865.9" cy="253.6" r="2.55" fill="rgba(0,0,0,0.65)"/>
<circle cx="819.6" cy="258.4" r="3.45" fill="none" stroke="rgba(205,40,50,0.6)" stroke-width="1.9"/><circle cx="819.6" cy="258.4" r="2.55" fill="rgba(0,0,0,0.65)"/>
<circle cx="837.2" cy="256.4" r="3.45" fill="none" stroke="rgba(205,40,50,0.6)" stroke-width="1.9"/><circle cx="837.2" cy="256.4" r="2.55" fill="rgba(0,0,0,0.65)"/>
<circle cx="848.5" cy="260" r="3.45" fill="none" stroke="rgba(205,40,50,0.6)" stroke-width="1.9"/><circle cx="848.5" cy="260" r="2.55" fill="rgba(0,0,0,0.65)"/>
<circle cx="790.8" cy="268.1" r="3.45" fill="none" stroke="rgba(205,40,50,0.6)" stroke-width="1.9"/><circle cx="790.8" cy="268.1" r="2.55" fill="rgba(0,0,0,0.65)"/>
<circle cx="822.4" cy="275.2" r="3.45" fill="none" stroke="rgba(205,40,50,0.6)" stroke-width="1.9"/><circle cx="822.4" cy="275.2" r="2.55" fill="rgba(0,0,0,0.65)"/>
<circle cx="826.4" cy="281.3" r="3.45" fill="none" stroke="rgba(205,40,50,0.6)" stroke-width="1.9"/><circle cx="826.4" cy="281.3" r="2.55" fill="rgba(0,0,0,0.65)"/>
<circle cx="840.2" cy="291" r="3.45" fill="none" stroke="rgba(205,40,50,0.6)" stroke-width="1.9"/><circle cx="840.2" cy="291" r="2.55" fill="rgba(0,0,0,0.65)"/>
<circle cx="814.1" cy="293.2" r="3.45" fill="none" stroke="rgba(205,40,50,0.6)" stroke-width="1.9"/><circle cx="814.1" cy="293.2" r="2.55" fill="rgba(0,0,0,0.65)"/>
<circle cx="822.8" cy="297.2" r="3.45" fill="none" stroke="rgba(205,40,50,0.6)" stroke-width="1.9"/><circle cx="822.8" cy="297.2" r="2.55" fill="rgba(0,0,0,0.65)"/>
<circle cx="863.3" cy="302.1" r="3.45" fill="none" stroke="rgba(205,40,50,0.6)" stroke-width="1.9"/><circle cx="863.3" cy="302.1" r="2.55" fill="rgba(0,0,0,0.65)"/>
<circle cx="866.3" cy="306" r="3.45" fill="none" stroke="rgba(205,40,50,0.6)" stroke-width="1.9"/><circle cx="866.3" cy="306" r="2.55" fill="rgba(0,0,0,0.65)"/>
<circle cx="839.6" cy="306.8" r="3.45" fill="none" stroke="rgba(205,40,50,0.6)" stroke-width="1.9"/><circle cx="839.6" cy="306.8" r="2.55" fill="rgba(0,0,0,0.65)"/>
<circle cx="878.4" cy="312.5" r="3.45" fill="none" stroke="rgba(205,40,50,0.6)" stroke-width="1.9"/><circle cx="878.4" cy="312.5" r="2.55" fill="rgba(0,0,0,0.65)"/>
<circle cx="834.3" cy="319.8" r="3.45" fill="none" stroke="rgba(205,40,50,0.6)" stroke-width="1.9"/><circle cx="834.3" cy="319.8" r="2.55" fill="rgba(0,0,0,0.65)"/>
<circle cx="857.2" cy="326.9" r="3.45" fill="none" stroke="rgba(205,40,50,0.6)" stroke-width="1.9"/><circle cx="857.2" cy="326.9" r="2.55" fill="rgba(0,0,0,0.65)"/>
<circle cx="802.6" cy="334" r="3.45" fill="none" stroke="rgba(205,40,50,0.6)" stroke-width="1.9"/><circle cx="802.6" cy="334" r="2.55" fill="rgba(0,0,0,0.65)"/>
<circle cx="881.3" cy="330.7" r="3.45" fill="none" stroke="rgba(205,40,50,0.6)" stroke-width="1.9"/><circle cx="881.3" cy="330.7" r="2.55" fill="rgba(0,0,0,0.65)"/>
<circle cx="846.1" cy="340.5" r="3.45" fill="none" stroke="rgba(205,40,50,0.6)" stroke-width="1.9"/><circle cx="846.1" cy="340.5" r="2.55" fill="rgba(0,0,0,0.65)"/>
<circle cx="849.1" cy="343.9" r="3.45" fill="none" stroke="rgba(205,40,50,0.6)" stroke-width="1.9"/><circle cx="849.1" cy="343.9" r="2.55" fill="rgba(0,0,0,0.65)"/>
<circle cx="879.4" cy="342.9" r="3.45" fill="none" stroke="rgba(205,40,50,0.6)" stroke-width="1.9"/><circle cx="879.4" cy="342.9" r="2.55" fill="rgba(0,0,0,0.65)"/>
<circle cx="878.4" cy="350.4" r="3.45" fill="none" stroke="rgba(205,40,50,0.6)" stroke-width="1.9"/><circle cx="878.4" cy="350.4" r="2.55" fill="rgba(0,0,0,0.65)"/>
<circle cx="826" cy="362.9" r="3.45" fill="none" stroke="rgba(205,40,50,0.6)" stroke-width="1.9"/><circle cx="826" cy="362.9" r="2.55" fill="rgba(0,0,0,0.65)"/>
<circle cx="805.2" cy="366.8" r="3.45" fill="none" stroke="rgba(205,40,50,0.6)" stroke-width="1.9"/><circle cx="805.2" cy="366.8" r="2.55" fill="rgba(0,0,0,0.65)"/>
<circle cx="857" cy="366.6" r="3.45" fill="none" stroke="rgba(205,40,50,0.6)" stroke-width="1.9"/><circle cx="857" cy="366.6" r="2.55" fill="rgba(0,0,0,0.65)"/>
<circle cx="852.5" cy="371.6" r="3.45" fill="none" stroke="rgba(205,40,50,0.6)" stroke-width="1.9"/><circle cx="852.5" cy="371.6" r="2.55" fill="rgba(0,0,0,0.65)"/>
<circle cx="801" cy="383.6" r="3.45" fill="none" stroke="rgba(205,40,50,0.6)" stroke-width="1.9"/><circle cx="801" cy="383.6" r="2.55" fill="rgba(0,0,0,0.65)"/>
<circle cx="791.2" cy="394.3" r="3.45" fill="none" stroke="rgba(205,40,50,0.6)" stroke-width="1.9"/><circle cx="791.2" cy="394.3" r="2.55" fill="rgba(0,0,0,0.65)"/>
<circle cx="877.8" cy="399.9" r="3.45" fill="none" stroke="rgba(205,40,50,0.6)" stroke-width="1.9"/><circle cx="877.8" cy="399.9" r="2.55" fill="rgba(0,0,0,0.65)"/>
<circle cx="798.3" cy="411.3" r="3.45" fill="none" stroke="rgba(205,40,50,0.6)" stroke-width="1.9"/><circle cx="798.3" cy="411.3" r="2.55" fill="rgba(0,0,0,0.65)"/>
<circle cx="887.3" cy="433.1" r="3.45" fill="none" stroke="rgba(205,40,50,0.6)" stroke-width="1.9"/><circle cx="887.3" cy="433.1" r="2.55" fill="rgba(0,0,0,0.65)"/>
<circle cx="1075.1" cy="115.6" r="3.6" fill="rgba(25,35,50,0.68)" stroke="rgba(60,100,140,0.55)" stroke-width="1"/>
<circle cx="1105.9" cy="128.8" r="3.6" fill="rgba(25,35,50,0.68)" stroke="rgba(60,100,140,0.55)" stroke-width="1"/>
<circle cx="1090.9" cy="134.5" r="3.6" fill="rgba(25,35,50,0.68)" stroke="rgba(60,100,140,0.55)" stroke-width="1"/>
<circle cx="1091.2" cy="146.8" r="3.6" fill="rgba(25,35,50,0.68)" stroke="rgba(60,100,140,0.55)" stroke-width="1"/>
<circle cx="1089" cy="157.3" r="3.6" fill="rgba(25,35,50,0.68)" stroke="rgba(60,100,140,0.55)" stroke-width="1"/>
<circle cx="1050.8" cy="158.4" r="3.45" fill="none" stroke="rgba(50,102,152,0.6)" stroke-width="1.9"/><circle cx="1050.8" cy="158.4" r="2.55" fill="rgba(0,0,0,0.65)"/>
<circle cx="1077.5" cy="159.3" r="3.45" fill="none" stroke="rgba(50,102,152,0.6)" stroke-width="1.9"/><circle cx="1077.5" cy="159.3" r="2.55" fill="rgba(0,0,0,0.65)"/>
<circle cx="1045.2" cy="184.1" r="3.45" fill="none" stroke="rgba(50,102,152,0.6)" stroke-width="1.9"/><circle cx="1045.2" cy="184.1" r="2.55" fill="rgba(0,0,0,0.65)"/>
<circle cx="1051.8" cy="184.1" r="3.45" fill="none" stroke="rgba(50,102,152,0.6)" stroke-width="1.9"/><circle cx="1051.8" cy="184.1" r="2.55" fill="rgba(0,0,0,0.65)"/>
<circle cx="1058.6" cy="181.3" r="3.45" fill="none" stroke="rgba(50,102,152,0.6)" stroke-width="1.9"/><circle cx="1058.6" cy="181.3" r="2.55" fill="rgba(0,0,0,0.65)"/>
<circle cx="1071.4" cy="191.8" r="3.45" fill="none" stroke="rgba(50,102,152,0.6)" stroke-width="1.9"/><circle cx="1071.4" cy="191.8" r="2.55" fill="rgba(0,0,0,0.65)"/>
<circle cx="1051.6" cy="196.2" r="3.45" fill="none" stroke="rgba(50,102,152,0.6)" stroke-width="1.9"/><circle cx="1051.6" cy="196.2" r="2.55" fill="rgba(0,0,0,0.65)"/>
<circle cx="1049.4" cy="205" r="3.45" fill="none" stroke="rgba(50,102,152,0.6)" stroke-width="1.9"/><circle cx="1049.4" cy="205" r="2.55" fill="rgba(0,0,0,0.65)"/>
<circle cx="1063.5" cy="205.2" r="3.45" fill="none" stroke="rgba(50,102,152,0.6)" stroke-width="1.9"/><circle cx="1063.5" cy="205.2" r="2.55" fill="rgba(0,0,0,0.65)"/>
<circle cx="1106.7" cy="202.8" r="3.45" fill="none" stroke="rgba(50,102,152,0.6)" stroke-width="1.9"/><circle cx="1106.7" cy="202.8" r="2.55" fill="rgba(0,0,0,0.65)"/>
<circle cx="1108.7" cy="208.3" r="3.45" fill="none" stroke="rgba(50,102,152,0.6)" stroke-width="1.9"/><circle cx="1108.7" cy="208.3" r="2.55" fill="rgba(0,0,0,0.65)"/>
<circle cx="1093.4" cy="211.1" r="3.45" fill="none" stroke="rgba(50,102,152,0.6)" stroke-width="1.9"/><circle cx="1093.4" cy="211.1" r="2.55" fill="rgba(0,0,0,0.65)"/>
<circle cx="1128.9" cy="213.8" r="3.6" fill="rgba(25,35,50,0.68)" stroke="rgba(60,100,140,0.55)" stroke-width="1"/>
<circle cx="1121.9" cy="219" r="3.6" fill="rgba(25,35,50,0.68)" stroke="rgba(60,100,140,0.55)" stroke-width="1"/>
<circle cx="1040.6" cy="215.1" r="3.45" fill="none" stroke="rgba(50,102,152,0.6)" stroke-width="1.9"/><circle cx="1040.6" cy="215.1" r="2.55" fill="rgba(0,0,0,0.65)"/>
<circle cx="1076.4" cy="215.1" r="3.45" fill="none" stroke="rgba(50,102,152,0.6)" stroke-width="1.9"/><circle cx="1076.4" cy="215.1" r="2.55" fill="rgba(0,0,0,0.65)"/>
<circle cx="1103.5" cy="219.4" r="3.45" fill="none" stroke="rgba(50,102,152,0.6)" stroke-width="1.9"/><circle cx="1103.5" cy="219.4" r="2.55" fill="rgba(0,0,0,0.65)"/>
<circle cx="1094.7" cy="223.9" r="3.45" fill="none" stroke="rgba(50,102,152,0.6)" stroke-width="1.9"/><circle cx="1094.7" cy="223.9" r="2.55" fill="rgba(0,0,0,0.65)"/>
<circle cx="1067.2" cy="225.8" r="3.45" fill="none" stroke="rgba(50,102,152,0.6)" stroke-width="1.9"/><circle cx="1067.2" cy="225.8" r="2.55" fill="rgba(0,0,0,0.65)"/>
<circle cx="1074.5" cy="227.5" r="3.45" fill="none" stroke="rgba(50,102,152,0.6)" stroke-width="1.9"/><circle cx="1074.5" cy="227.5" r="2.55" fill="rgba(0,0,0,0.65)"/>
<circle cx="1042.4" cy="232.9" r="3.45" fill="none" stroke="rgba(50,102,152,0.6)" stroke-width="1.9"/><circle cx="1042.4" cy="232.9" r="2.55" fill="rgba(0,0,0,0.65)"/>
<circle cx="1039.3" cy="240.2" r="3.45" fill="none" stroke="rgba(50,102,152,0.6)" stroke-width="1.9"/><circle cx="1039.3" cy="240.2" r="2.55" fill="rgba(0,0,0,0.65)"/>
<circle cx="1041.5" cy="251.2" r="3.45" fill="none" stroke="rgba(50,102,152,0.6)" stroke-width="1.9"/><circle cx="1041.5" cy="251.2" r="2.55" fill="rgba(0,0,0,0.65)"/>
<circle cx="1049.9" cy="254.9" r="3.45" fill="none" stroke="rgba(50,102,152,0.6)" stroke-width="1.9"/><circle cx="1049.9" cy="254.9" r="2.55" fill="rgba(0,0,0,0.65)"/>
<circle cx="1056.7" cy="247.2" r="3.45" fill="none" stroke="rgba(50,102,152,0.6)" stroke-width="1.9"/><circle cx="1056.7" cy="247.2" r="2.55" fill="rgba(0,0,0,0.65)"/>
<circle cx="1058.6" cy="251.2" r="3.45" fill="none" stroke="rgba(50,102,152,0.6)" stroke-width="1.9"/><circle cx="1058.6" cy="251.2" r="2.55" fill="rgba(0,0,0,0.65)"/>
<circle cx="1103.9" cy="230.1" r="3.45" fill="none" stroke="rgba(50,102,152,0.6)" stroke-width="1.9"/><circle cx="1103.9" cy="230.1" r="2.55" fill="rgba(0,0,0,0.65)"/>
<circle cx="1110.5" cy="239.3" r="3.45" fill="none" stroke="rgba(50,102,152,0.6)" stroke-width="1.9"/><circle cx="1110.5" cy="239.3" r="2.55" fill="rgba(0,0,0,0.65)"/>
<circle cx="1089.4" cy="245.7" r="3.45" fill="none" stroke="rgba(50,102,152,0.6)" stroke-width="1.9"/><circle cx="1089.4" cy="245.7" r="2.55" fill="rgba(0,0,0,0.65)"/>
<circle cx="1090.7" cy="248.5" r="3.45" fill="none" stroke="rgba(50,102,152,0.6)" stroke-width="1.9"/><circle cx="1090.7" cy="248.5" r="2.55" fill="rgba(0,0,0,0.65)"/>
<circle cx="1126.1" cy="237.8" r="3.45" fill="none" stroke="rgba(50,102,152,0.6)" stroke-width="1.9"/><circle cx="1126.1" cy="237.8" r="2.55" fill="rgba(0,0,0,0.65)"/>
<circle cx="1124.7" cy="240.2" r="3.45" fill="none" stroke="rgba(50,102,152,0.6)" stroke-width="1.9"/><circle cx="1124.7" cy="240.2" r="2.55" fill="rgba(0,0,0,0.65)"/>
<circle cx="1132.9" cy="237.4" r="3.45" fill="none" stroke="rgba(50,102,152,0.6)" stroke-width="1.9"/><circle cx="1132.9" cy="237.4" r="2.55" fill="rgba(0,0,0,0.65)"/>
<circle cx="1121.7" cy="248.1" r="3.45" fill="none" stroke="rgba(50,102,152,0.6)" stroke-width="1.9"/><circle cx="1121.7" cy="248.1" r="2.55" fill="rgba(0,0,0,0.65)"/>
<circle cx="1130.9" cy="246.6" r="3.45" fill="none" stroke="rgba(50,102,152,0.6)" stroke-width="1.9"/><circle cx="1130.9" cy="246.6" r="2.55" fill="rgba(0,0,0,0.65)"/>
<circle cx="1107.2" cy="258.6" r="3.45" fill="none" stroke="rgba(50,102,152,0.6)" stroke-width="1.9"/><circle cx="1107.2" cy="258.6" r="2.55" fill="rgba(0,0,0,0.65)"/>
<circle cx="1111.8" cy="255.8" r="3.45" fill="none" stroke="rgba(50,102,152,0.6)" stroke-width="1.9"/><circle cx="1111.8" cy="255.8" r="2.55" fill="rgba(0,0,0,0.65)"/>
<circle cx="1125" cy="263.2" r="3.45" fill="none" stroke="rgba(50,102,152,0.6)" stroke-width="1.9"/><circle cx="1125" cy="263.2" r="2.55" fill="rgba(0,0,0,0.65)"/>
<circle cx="1038.9" cy="263.7" r="3.45" fill="none" stroke="rgba(50,102,152,0.6)" stroke-width="1.9"/><circle cx="1038.9" cy="263.7" r="2.55" fill="rgba(0,0,0,0.65)"/>
<circle cx="1076.9" cy="264.1" r="3.45" fill="none" stroke="rgba(50,102,152,0.6)" stroke-width="1.9"/><circle cx="1076.9" cy="264.1" r="2.55" fill="rgba(0,0,0,0.65)"/>
<circle cx="1069.9" cy="266.8" r="3.45" fill="none" stroke="rgba(50,102,152,0.6)" stroke-width="1.9"/><circle cx="1069.9" cy="266.8" r="2.55" fill="rgba(0,0,0,0.65)"/>
<circle cx="1092.5" cy="268.1" r="3.45" fill="none" stroke="rgba(50,102,152,0.6)" stroke-width="1.9"/><circle cx="1092.5" cy="268.1" r="2.55" fill="rgba(0,0,0,0.65)"/>
<circle cx="1098.6" cy="267.4" r="3.45" fill="none" stroke="rgba(50,102,152,0.6)" stroke-width="1.9"/><circle cx="1098.6" cy="267.4" r="2.55" fill="rgba(0,0,0,0.65)"/>
<circle cx="1086.5" cy="270.5" r="3.45" fill="none" stroke="rgba(50,102,152,0.6)" stroke-width="1.9"/><circle cx="1086.5" cy="270.5" r="2.55" fill="rgba(0,0,0,0.65)"/>
<circle cx="1045.3" cy="272.3" r="3.45" fill="none" stroke="rgba(50,102,152,0.6)" stroke-width="1.9"/><circle cx="1045.3" cy="272.3" r="2.55" fill="rgba(0,0,0,0.65)"/>
<circle cx="1049.4" cy="273.3" r="3.45" fill="none" stroke="rgba(50,102,152,0.6)" stroke-width="1.9"/><circle cx="1049.4" cy="273.3" r="2.55" fill="rgba(0,0,0,0.65)"/>
<circle cx="1054.9" cy="273.3" r="3.45" fill="none" stroke="rgba(50,102,152,0.6)" stroke-width="1.9"/><circle cx="1054.9" cy="273.3" r="2.55" fill="rgba(0,0,0,0.65)"/>
<circle cx="1052.1" cy="276.9" r="3.45" fill="none" stroke="rgba(50,102,152,0.6)" stroke-width="1.9"/><circle cx="1052.1" cy="276.9" r="2.55" fill="rgba(0,0,0,0.65)"/>
<circle cx="1036.5" cy="278.4" r="3.45" fill="none" stroke="rgba(50,102,152,0.6)" stroke-width="1.9"/><circle cx="1036.5" cy="278.4" r="2.55" fill="rgba(0,0,0,0.65)"/>
<circle cx="1094.4" cy="274.2" r="3.45" fill="none" stroke="rgba(50,102,152,0.6)" stroke-width="1.9"/><circle cx="1094.4" cy="274.2" r="2.55" fill="rgba(0,0,0,0.65)"/>
<circle cx="1064.1" cy="282.4" r="3.45" fill="none" stroke="rgba(50,102,152,0.6)" stroke-width="1.9"/><circle cx="1064.1" cy="282.4" r="2.55" fill="rgba(0,0,0,0.65)"/>
<circle cx="1076" cy="281.9" r="3.45" fill="none" stroke="rgba(50,102,152,0.6)" stroke-width="1.9"/><circle cx="1076" cy="281.9" r="2.55" fill="rgba(0,0,0,0.65)"/>
<circle cx="1093.1" cy="282.4" r="3.45" fill="none" stroke="rgba(50,102,152,0.6)" stroke-width="1.9"/><circle cx="1093.1" cy="282.4" r="2.55" fill="rgba(0,0,0,0.65)"/>
<circle cx="1115.9" cy="283.3" r="3.45" fill="none" stroke="rgba(50,102,152,0.6)" stroke-width="1.9"/><circle cx="1115.9" cy="283.3" r="2.55" fill="rgba(0,0,0,0.65)"/>
<circle cx="1132" cy="287.6" r="3.45" fill="none" stroke="rgba(50,102,152,0.6)" stroke-width="1.9"/><circle cx="1132" cy="287.6" r="2.55" fill="rgba(0,0,0,0.65)"/>
<circle cx="1056.7" cy="286.1" r="3.45" fill="none" stroke="rgba(50,102,152,0.6)" stroke-width="1.9"/><circle cx="1056.7" cy="286.1" r="2.55" fill="rgba(0,0,0,0.65)"/>
<circle cx="1071.4" cy="288.3" r="3.45" fill="none" stroke="rgba(50,102,152,0.6)" stroke-width="1.9"/><circle cx="1071.4" cy="288.3" r="2.55" fill="rgba(0,0,0,0.65)"/>
<circle cx="1045.7" cy="289.8" r="3.45" fill="none" stroke="rgba(50,102,152,0.6)" stroke-width="1.9"/><circle cx="1045.7" cy="289.8" r="2.55" fill="rgba(0,0,0,0.65)"/>
<circle cx="1091.6" cy="291.2" r="3.45" fill="none" stroke="rgba(50,102,152,0.6)" stroke-width="1.9"/><circle cx="1091.6" cy="291.2" r="2.55" fill="rgba(0,0,0,0.65)"/>
<circle cx="1058.6" cy="298" r="3.45" fill="none" stroke="rgba(50,102,152,0.6)" stroke-width="1.9"/><circle cx="1058.6" cy="298" r="2.55" fill="rgba(0,0,0,0.65)"/>
<circle cx="1073.8" cy="298" r="3.45" fill="none" stroke="rgba(50,102,152,0.6)" stroke-width="1.9"/><circle cx="1073.8" cy="298" r="2.55" fill="rgba(0,0,0,0.65)"/>
<circle cx="1043.3" cy="300.8" r="3.45" fill="none" stroke="rgba(50,102,152,0.6)" stroke-width="1.9"/><circle cx="1043.3" cy="300.8" r="2.55" fill="rgba(0,0,0,0.65)"/>
<circle cx="1108.7" cy="300.4" r="3.45" fill="none" stroke="rgba(50,102,152,0.6)" stroke-width="1.9"/><circle cx="1108.7" cy="300.4" r="2.55" fill="rgba(0,0,0,0.65)"/>
<circle cx="1058" cy="304.5" r="3.6" fill="rgba(25,35,50,0.68)" stroke="rgba(60,100,140,0.55)" stroke-width="1"/>
<circle cx="1093.4" cy="310.5" r="3.6" fill="rgba(25,35,50,0.68)" stroke="rgba(60,100,140,0.55)" stroke-width="1"/>
<circle cx="1112.4" cy="313.6" r="3.6" fill="rgba(25,35,50,0.68)" stroke="rgba(60,100,140,0.55)" stroke-width="1"/>
<circle cx="1123.7" cy="317.3" r="3.6" fill="rgba(25,35,50,0.68)" stroke="rgba(60,100,140,0.55)" stroke-width="1"/>
<circle cx="1051.8" cy="313.3" r="3.6" fill="rgba(25,35,50,0.68)" stroke="rgba(60,100,140,0.55)" stroke-width="1"/>
<circle cx="1037.8" cy="319.7" r="3.6" fill="rgba(25,35,50,0.68)" stroke="rgba(60,100,140,0.55)" stroke-width="1"/>
<circle cx="1057.1" cy="322.3" r="3.6" fill="rgba(25,35,50,0.68)" stroke="rgba(60,100,140,0.55)" stroke-width="1"/>
<circle cx="1064.1" cy="322.8" r="3.6" fill="rgba(25,35,50,0.68)" stroke="rgba(60,100,140,0.55)" stroke-width="1"/>
<circle cx="1060" cy="326.1" r="3.6" fill="rgba(25,35,50,0.68)" stroke="rgba(60,100,140,0.55)" stroke-width="1"/>
<circle cx="1091.2" cy="321" r="3.6" fill="rgba(25,35,50,0.68)" stroke="rgba(60,100,140,0.55)" stroke-width="1"/>
<circle cx="1095.3" cy="324.1" r="3.6" fill="rgba(25,35,50,0.68)" stroke="rgba(60,100,140,0.55)" stroke-width="1"/>
<circle cx="1050.8" cy="334.8" r="3.6" fill="rgba(25,35,50,0.68)" stroke="rgba(60,100,140,0.55)" stroke-width="1"/>
<circle cx="1103.9" cy="343.6" r="3.6" fill="rgba(25,35,50,0.68)" stroke="rgba(60,100,140,0.55)" stroke-width="1"/>
<circle cx="1038.4" cy="347" r="3.6" fill="rgba(25,35,50,0.68)" stroke="rgba(60,100,140,0.55)" stroke-width="1"/>
<circle cx="1047.5" cy="353.4" r="3.6" fill="rgba(25,35,50,0.68)" stroke="rgba(60,100,140,0.55)" stroke-width="1"/>
<circle cx="1057.3" cy="357.1" r="3.45" fill="none" stroke="rgba(50,102,152,0.6)" stroke-width="1.9"/><circle cx="1057.3" cy="357.1" r="2.55" fill="rgba(0,0,0,0.65)"/>
<circle cx="1057.6" cy="357.4" r="3.6" fill="rgba(25,35,50,0.68)" stroke="rgba(60,100,140,0.55)" stroke-width="1"/>
<circle cx="1038.7" cy="363.9" r="3.6" fill="rgba(25,35,50,0.68)" stroke="rgba(60,100,140,0.55)" stroke-width="1"/>
<circle cx="1065.9" cy="369" r="3.6" fill="rgba(25,35,50,0.68)" stroke="rgba(60,100,140,0.55)" stroke-width="1"/>
<circle cx="1111.8" cy="360.2" r="3.6" fill="rgba(25,35,50,0.68)" stroke="rgba(60,100,140,0.55)" stroke-width="1"/>
<circle cx="1110.3" cy="366.3" r="3.6" fill="rgba(25,35,50,0.68)" stroke="rgba(60,100,140,0.55)" stroke-width="1"/>
<circle cx="1103.9" cy="381.9" r="3.6" fill="rgba(25,35,50,0.68)" stroke="rgba(60,100,140,0.55)" stroke-width="1"/>
<circle cx="1055.8" cy="437.3" r="3.6" fill="rgba(25,35,50,0.68)" stroke="rgba(60,100,140,0.55)" stroke-width="1"/>
<circle cx="1090.3" cy="455.7" r="3.6" fill="rgba(25,35,50,0.68)" stroke="rgba(60,100,140,0.55)" stroke-width="1"/>
<circle cx="1123.3" cy="516.7" r="3.6" fill="rgba(25,35,50,0.68)" stroke="rgba(60,100,140,0.55)" stroke-width="1"/>
<rect x="692.8" y="22.7" width="537.9" height="659.5" fill="none" stroke="#4a4a4a" stroke-width="1.35"/>
<line x1="688.6" y1="52.45" x2="692.8" y2="52.45" stroke="#333333" stroke-width="1.5"/>
<text id="by2" x="684.6" y="59.05" text-anchor="end" font-size="18.7" fill="#4D4D4D">2</text>
<line x1="688.6" y1="202.45" x2="692.8" y2="202.45" stroke="#333333" stroke-width="1.5"/>
<text id="by1" x="684.6" y="209.05" text-anchor="end" font-size="18.7" fill="#4D4D4D">1</text>
<line x1="688.6" y1="352.45" x2="692.8" y2="352.45" stroke="#333333" stroke-width="1.5"/>
<text id="by0" x="684.6" y="359.05" text-anchor="end" font-size="18.7" fill="#4D4D4D">0</text>
<line x1="688.6" y1="502.45" x2="692.8" y2="502.45" stroke="#333333" stroke-width="1.5"/>
<text id="by-1" x="684.6" y="509.05" text-anchor="end" font-size="18.7" fill="#4D4D4D">−1</text>
<line x1="688.6" y1="652.45" x2="692.8" y2="652.45" stroke="#333333" stroke-width="1.5"/>
<text id="by-2" x="684.6" y="659.05" text-anchor="end" font-size="18.7" fill="#4D4D4D">−2</text>
<line x1="839.2" y1="682.2" x2="839.2" y2="686.4" stroke="#333333" stroke-width="1.5"/>
<text id="bxHC" x="839.2" y="703.8" text-anchor="middle" font-size="18.7" fill="#4D4D4D">HC</text>
<line x1="1084" y1="682.2" x2="1084" y2="686.4" stroke="#333333" stroke-width="1.5"/>
<text id="bxMS" x="1084" y="703.8" text-anchor="middle" font-size="18.7" fill="#4D4D4D">MS</text>
<text id="bp" x="716.5" y="52.8" font-size="18.5" fill="#000">p = 0.002</text>
<text id="byt" transform="translate(658.9,352.45) rotate(-90)" text-anchor="middle" font-size="23.3" fill="#000">MOG NPX</text>
<text id="blbl" x="624.3" y="19.8" font-size="27.5" fill="#000">B</text>
<line x1="1366.54" y1="536.6" x2="2034.46" y2="387.1" stroke="#D81B21" stroke-width="2.4"/>
<line x1="1366.54" y1="484.4" x2="2034.46" y2="305.1" stroke="#3577B2" stroke-width="2.4"/>
<path d="M1366.54,444.82 L1377.67,444.31 L1388.8,443.8 L1399.94,443.28 L1411.07,442.74 L1422.2,442.21 L1433.33,441.66 L1444.46,441.1 L1455.6,440.53 L1466.73,439.95 L1477.86,439.35 L1488.99,438.74 L1500.12,438.12 L1511.26,437.48 L1522.39,436.83 L1533.52,436.15 L1544.65,435.46 L1555.78,434.74 L1566.92,433.99 L1578.05,433.22 L1589.18,432.43 L1600.31,431.59 L1611.44,430.73 L1622.58,429.82 L1633.71,428.87 L1644.84,427.87 L1655.97,426.83 L1667.1,425.72 L1678.24,424.55 L1689.37,423.32 L1700.5,422.01 L1711.63,420.61 L1722.76,419.13 L1733.9,417.55 L1745.03,415.87 L1756.16,414.08 L1767.29,412.17 L1778.42,410.13 L1789.56,407.97 L1800.69,405.67 L1811.82,403.24 L1822.95,400.68 L1834.08,397.98 L1845.22,395.15 L1856.35,392.19 L1867.48,389.1 L1878.61,385.9 L1889.74,382.59 L1900.88,379.18 L1912.01,375.67 L1923.14,372.07 L1934.27,368.39 L1945.4,364.64 L1956.54,360.82 L1967.67,356.93 L1978.8,352.99 L1989.93,349 L2001.06,344.96 L2012.2,340.88 L2023.33,336.76 L2034.46,332.61 L2034.46,441.59 L2023.33,442.42 L2012.2,443.29 L2001.06,444.19 L1989.93,445.13 L1978.8,446.13 L1967.67,447.17 L1956.54,448.27 L1945.4,449.43 L1934.27,450.66 L1923.14,451.96 L1912.01,453.35 L1900.88,454.82 L1889.74,456.39 L1878.61,458.06 L1867.48,459.85 L1856.35,461.75 L1845.22,463.77 L1834.08,465.92 L1822.95,468.21 L1811.82,470.62 L1800.69,473.18 L1789.56,475.86 L1778.42,478.68 L1767.29,481.63 L1756.16,484.71 L1745.03,487.9 L1733.9,491.2 L1722.76,494.6 L1711.63,498.1 L1700.5,501.69 L1689.37,505.36 L1678.24,509.11 L1667.1,512.93 L1655.97,516.81 L1644.84,520.74 L1633.71,524.73 L1622.58,528.76 L1611.44,532.84 L1600.31,536.96 L1589.18,541.11 L1578.05,545.29 L1566.92,549.51 L1555.78,553.75 L1544.65,558.01 L1533.52,562.3 L1522.39,566.61 L1511.26,570.93 L1500.12,575.28 L1488.99,579.64 L1477.86,584.01 L1466.73,588.4 L1455.6,592.8 L1444.46,597.22 L1433.33,601.64 L1422.2,606.08 L1411.07,610.52 L1399.94,614.97 L1388.8,619.44 L1377.67,623.9 L1366.54,628.38 Z" fill="#E41A1C" fill-opacity="0.16"/>
<path d="M1366.54,424.21 L1377.67,422.38 L1388.8,420.55 L1399.94,418.71 L1411.07,416.87 L1422.2,415.01 L1433.33,413.15 L1444.46,411.28 L1455.6,409.4 L1466.73,407.51 L1477.86,405.61 L1488.99,403.7 L1500.12,401.77 L1511.26,399.84 L1522.39,397.89 L1533.52,395.92 L1544.65,393.94 L1555.78,391.94 L1566.92,389.92 L1578.05,387.89 L1589.18,385.83 L1600.31,383.75 L1611.44,381.64 L1622.58,379.51 L1633.71,377.35 L1644.84,375.16 L1655.97,372.94 L1667.1,370.68 L1678.24,368.39 L1689.37,366.06 L1700.5,363.68 L1711.63,361.27 L1722.76,358.8 L1733.9,356.29 L1745.03,353.72 L1756.16,351.1 L1767.29,348.42 L1778.42,345.69 L1789.56,342.9 L1800.69,340.04 L1811.82,337.13 L1822.95,334.15 L1834.08,331.11 L1845.22,328.01 L1856.35,324.84 L1867.48,321.62 L1878.61,318.34 L1889.74,315 L1900.88,311.61 L1912.01,308.16 L1923.14,304.66 L1934.27,301.12 L1945.4,297.53 L1956.54,293.9 L1967.67,290.23 L1978.8,286.52 L1989.93,282.78 L2001.06,279 L2012.2,275.19 L2023.33,271.36 L2034.46,267.49 L2034.46,342.71 L2023.33,344.82 L2012.2,346.96 L2001.06,349.13 L1989.93,351.33 L1978.8,353.56 L1967.67,355.83 L1956.54,358.14 L1945.4,360.48 L1934.27,362.87 L1923.14,365.3 L1912.01,367.78 L1900.88,370.31 L1889.74,372.9 L1878.61,375.54 L1867.48,378.23 L1856.35,380.98 L1845.22,383.8 L1834.08,386.67 L1822.95,389.61 L1811.82,392.61 L1800.69,395.67 L1789.56,398.79 L1778.42,401.97 L1767.29,405.22 L1756.16,408.52 L1745.03,411.87 L1733.9,415.28 L1722.76,418.75 L1711.63,422.26 L1700.5,425.82 L1689.37,429.42 L1678.24,433.06 L1667.1,436.75 L1655.97,440.47 L1644.84,444.22 L1633.71,448.01 L1622.58,451.83 L1611.44,455.67 L1600.31,459.54 L1589.18,463.44 L1578.05,467.36 L1566.92,471.3 L1555.78,475.26 L1544.65,479.23 L1533.52,483.23 L1522.39,487.24 L1511.26,491.27 L1500.12,495.31 L1488.99,499.36 L1477.86,503.42 L1466.73,507.5 L1455.6,511.59 L1444.46,515.68 L1433.33,519.79 L1422.2,523.9 L1411.07,528.03 L1399.94,532.16 L1388.8,536.3 L1377.67,540.44 L1366.54,544.59 Z" fill="#377EB8" fill-opacity="0.16"/>
<rect x="1333.7" y="56.7" width="734.3" height="599.7" fill="none" stroke="#4a4a4a" stroke-width="1.35"/>
<line x1="1329.5" y1="77.05" x2="1333.7" y2="77.05" stroke="#333333" stroke-width="1.5"/>
<text id="cy1.5" x="1325.3" y="83.65" text-anchor="end" font-size="18.7" fill="#4D4D4D">1.5</text>
<line x1="1329.5" y1="213.15" x2="1333.7" y2="213.15" stroke="#333333" stroke-width="1.5"/>
<text id="cy1.0" x="1325.3" y="219.75" text-anchor="end" font-size="18.7" fill="#4D4D4D">1.0</text>
<line x1="1329.5" y1="349.25" x2="1333.7" y2="349.25" stroke="#333333" stroke-width="1.5"/>
<text id="cy0.5" x="1325.3" y="355.85" text-anchor="end" font-size="18.7" fill="#4D4D4D">0.5</text>
<line x1="1329.5" y1="485.35" x2="1333.7" y2="485.35" stroke="#333333" stroke-width="1.5"/>
<text id="cy0.0" x="1325.3" y="491.95" text-anchor="end" font-size="18.7" fill="#4D4D4D">0.0</text>
<line x1="1329.5" y1="621.45" x2="1333.7" y2="621.45" stroke="#333333" stroke-width="1.5"/>
<text id="cy−0.5" x="1325.3" y="628.05" text-anchor="end" font-size="18.7" fill="#4D4D4D">−0.5</text>
<line x1="1396.9" y1="656.4" x2="1396.9" y2="660.6" stroke="#333333" stroke-width="1.5"/>
<text id="cx-15" x="1396.9" y="678" text-anchor="middle" font-size="18.7" fill="#4D4D4D">−15</text>
<line x1="1548.7" y1="656.4" x2="1548.7" y2="660.6" stroke="#333333" stroke-width="1.5"/>
<text id="cx-10" x="1548.7" y="678" text-anchor="middle" font-size="18.7" fill="#4D4D4D">−10</text>
<line x1="1700.5" y1="656.4" x2="1700.5" y2="660.6" stroke="#333333" stroke-width="1.5"/>
<text id="cx-5" x="1700.5" y="678" text-anchor="middle" font-size="18.7" fill="#4D4D4D">−5</text>
<line x1="1852.3" y1="656.4" x2="1852.3" y2="660.6" stroke="#333333" stroke-width="1.5"/>
<text id="cx0" x="1852.3" y="678" text-anchor="middle" font-size="18.7" fill="#4D4D4D">0</text>
<line x1="2004.1" y1="656.4" x2="2004.1" y2="660.6" stroke="#333333" stroke-width="1.5"/>
<text id="cx5" x="2004.1" y="678" text-anchor="middle" font-size="18.7" fill="#4D4D4D">5</text>
<text id="inter" x="1367.5" y="96.7" font-size="18.5" fill="#000">Interaction p = 0.700</text>
<text id="xt" x="1700.85" y="702.9" text-anchor="middle" font-size="23.3" fill="#000">Time Between Samples</text>
<text id="yt" transform="translate(1285,356.55) rotate(-90)" text-anchor="middle" font-size="23.3" fill="#000">Predicted MOG NPX</text>
<text id="clbl" x="1247.8" y="20" font-size="27.5" fill="#000">C</text>
<text id="grp" x="2093.5" y="335.4" font-size="22.8" fill="#000">Group</text>
<rect x="2095.1" y="347.9" width="22.8" height="22.8" fill="#DFDDDE" stroke="#D4363A" stroke-width="1.8"/>
<line x1="2096.6" y1="359.4" x2="2116.6" y2="359.4" stroke="#CC2329" stroke-width="2.6"/>
<text id="legHC" x="2127.5" y="365.8" font-size="18.5" fill="#000">HC</text>
<rect x="2095.1" y="372.9" width="22.8" height="22.8" fill="#DFDDDE" stroke="#4A84B9" stroke-width="1.8"/>
<line x1="2096.6" y1="384.4" x2="2116.6" y2="384.4" stroke="#3D72A8" stroke-width="2.6"/>
<text id="legMS" x="2127.5" y="390.8" font-size="18.5" fill="#000">MS</text>
</svg></body></html>
